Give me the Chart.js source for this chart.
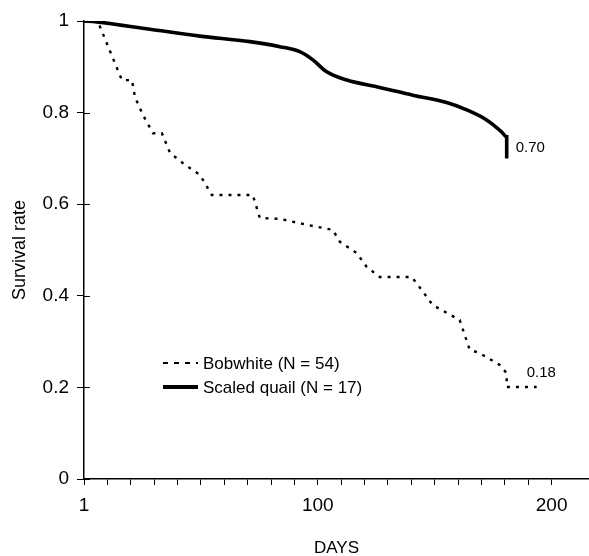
<!DOCTYPE html>
<html>
<head>
<meta charset="utf-8">
<script src="https://cdn.jsdelivr.net/npm/chart.js@4/dist/chart.umd.min.js"></script>
<style>
  html, body { margin: 0; padding: 0; background: #fff; }
  #wrap { width: 589px; height: 556px; }
</style>
</head>
<body>
<div id="wrap"><canvas id="survivalChart" width="589" height="556"></canvas></div>
<script>
// values (x in days from the origin, y = survival rate)
const bobwhiteDays = [0, 6, 16.2, 20.5, 21.8, 25.2, 29.5, 33.3, 36.8, 43.2, 49.6, 54.7, 72.2, 75.2, 83.8, 95.3, 106.4, 109.4, 116.7, 120.9, 126.5, 140.2, 144.4, 149.1, 160.7, 165, 169.2, 177.8, 180.8, 180.8, 193.6];
const bobwhiteRate = [1.0, 0.998, 0.871, 0.871, 0.834, 0.795, 0.755, 0.755, 0.712, 0.686, 0.664, 0.62, 0.62, 0.57, 0.568, 0.555, 0.544, 0.518, 0.493, 0.463, 0.441, 0.441, 0.413, 0.38, 0.347, 0.282, 0.275, 0.249, 0.231, 0.201, 0.201];

const quailDays = [0, 5.4, 28.2, 49.6, 70.9, 83.8, 92.3, 97.9, 103.8, 112.4, 126.5, 140.6, 155.1, 163.7, 172.2, 178.6, 180.8, 180.8];
const quailRate = [1.0, 0.998, 0.982, 0.967, 0.955, 0.944, 0.933, 0.915, 0.889, 0.871, 0.855, 0.838, 0.822, 0.806, 0.784, 0.758, 0.747, 0.70];

const seriesNames = ['Bobwhite (N = 54)', 'Scaled quail (N = 17)'];
const endLabels = ['0.18', '0.70'];
const xTickLabels = { 0: '1', 100: '100', 200: '200' };

const fontFamily = '"Liberation Sans", Arial, Helvetica, sans-serif';

function toPoints(xs, ys) {
    return xs.map((x, i) => ({ x: x, y: ys[i] }));
}

const extrasPlugin = {
    id: 'extras',
    afterDraw(chart) {
        const ctx = chart.ctx;
        const area = chart.chartArea;
        const yScale = chart.scales.y;
        ctx.save();

        // y ticks cross the axis
        ctx.strokeStyle = '#000';
        ctx.lineWidth = 1;
        yScale.ticks.forEach(t => {
            const py = Math.round(yScale.getPixelForValue(t.value)) + 0.5;
            ctx.beginPath();
            ctx.moveTo(area.left, py);
            ctx.lineTo(area.left + 6, py);
            ctx.stroke();
        });

        // end labels
        ctx.fillStyle = '#000';
        ctx.font = '15px ' + fontFamily;
        ctx.textBaseline = 'middle';
        ctx.textAlign = 'left';
        chart.data.datasets.forEach((ds, i) => {
            const pts = chart.getDatasetMeta(i).data;
            const last = pts[pts.length - 1];
            if (i === 0) {
                ctx.fillText(endLabels[0], last.x - 10, last.y - 14);
            } else {
                ctx.fillText(endLabels[1], last.x + 9, last.y - 11);
            }
        });

        // legend
        const lx = 163, ly = 363, gap = 24;
        chart.data.datasets.forEach((ds, i) => {
            const y = ly + i * gap;
            ctx.beginPath();
            ctx.setLineDash(i === 0 ? [5, 6] : []);
            ctx.lineWidth = i === 0 ? 2.2 : 4;
            ctx.moveTo(lx, y);
            ctx.lineTo(lx + 35, y);
            ctx.stroke();
            ctx.setLineDash([]);
            ctx.font = '17px ' + fontFamily;
            ctx.fillText(ds.label, lx + 40, y + 1);
        });
        ctx.restore();
    }
};

new Chart(document.getElementById('survivalChart'), {
    type: 'line',
    data: {
        datasets: [{
            label: seriesNames[0],
            data: toPoints(bobwhiteDays, bobwhiteRate),
            borderColor: '#000',
            borderWidth: 2.4,
            borderDash: [3, 6],
            pointRadius: 0,
            tension: 0,
            fill: false
        }, {
            label: seriesNames[1],
            data: toPoints(quailDays, quailRate),
            borderColor: '#000',
            borderWidth: 3.6,
            pointRadius: 0,
            cubicInterpolationMode: 'monotone',
            fill: false
        }]
    },
    options: {
        responsive: false,
        animation: false,
        devicePixelRatio: 1,
        layout: { padding: { top: 21, right: 0, left: 0, bottom: 0 } },
        plugins: {
            legend: { display: false },
            tooltip: { enabled: false }
        },
        scales: {
            x: {
                type: 'linear',
                min: 0,
                max: 216,
                afterFit: scale => {
                    scale.height = 77;
                    scale.paddingLeft = 0;
                    scale.paddingRight = 0;
                },
                border: { display: true, color: '#000', width: 1.5 },
                grid: { drawOnChartArea: false, drawTicks: true, tickLength: 6, color: '#000' },
                ticks: {
                    stepSize: 10,
                    autoSkip: false,
                    maxRotation: 0,
                    padding: 9,
                    color: '#000',
                    font: { family: fontFamily, size: 19 },
                    callback: v => xTickLabels[v] || ''
                },
                title: {
                    display: true,
                    text: 'DAYS',
                    color: '#000',
                    font: { family: fontFamily, size: 17 },
                    padding: { top: 4, bottom: -3 }
                }
            },
            y: {
                min: 0,
                max: 1,
                afterFit: scale => { scale.width = 84; },
                border: { display: true, color: '#000', width: 1.5 },
                grid: { drawOnChartArea: false, drawTicks: true, tickLength: 7, color: '#000' },
                ticks: {
                    stepSize: 0.2,
                    padding: 8,
                    color: '#000',
                    font: { family: fontFamily, size: 19 },
                    callback: v => (v === 0 || v === 1) ? String(v) : v.toFixed(1)
                },
                title: {
                    display: true,
                    text: 'Survival rate',
                    color: '#000',
                    font: { family: fontFamily, size: 18 },
                    padding: { top: 9, bottom: 0 }
                }
            }
        }
    },
    plugins: [extrasPlugin]
});
</script>
</body>
</html>
